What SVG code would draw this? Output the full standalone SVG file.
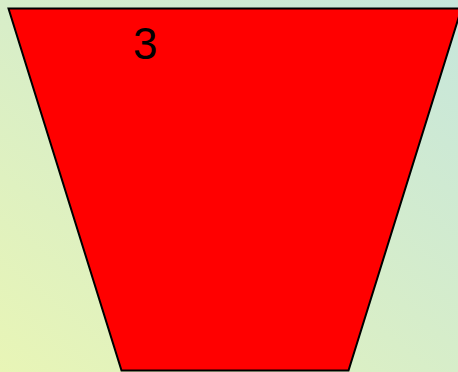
<svg xmlns="http://www.w3.org/2000/svg" width="458" height="372" viewBox="0 0 458 372">
  <defs>
    <linearGradient id="bg" x1="0" y1="1" x2="1" y2="0">
      <stop offset="0" stop-color="#e8f5b6"/>
      <stop offset="1" stop-color="#c6e6dc"/>
    </linearGradient>
  </defs>
  <style>
    .shape { fill: #ff0000; stroke: #000000; stroke-width: 2; }
    .label { font-family: "Liberation Sans", Arial, sans-serif; font-size: 44px; fill: #000000; }
  </style>
  <rect x="0" y="0" width="458" height="372" fill="url(#bg)"/>
  <g id="node-3">
    <polygon class="shape" points="8.5,8.5 461.5,8.5 348.5,370.5 121.5,370.5"/>
    <text class="label" x="133" y="59">3</text>
  </g>
  <g id="connectors"></g>
</svg>
